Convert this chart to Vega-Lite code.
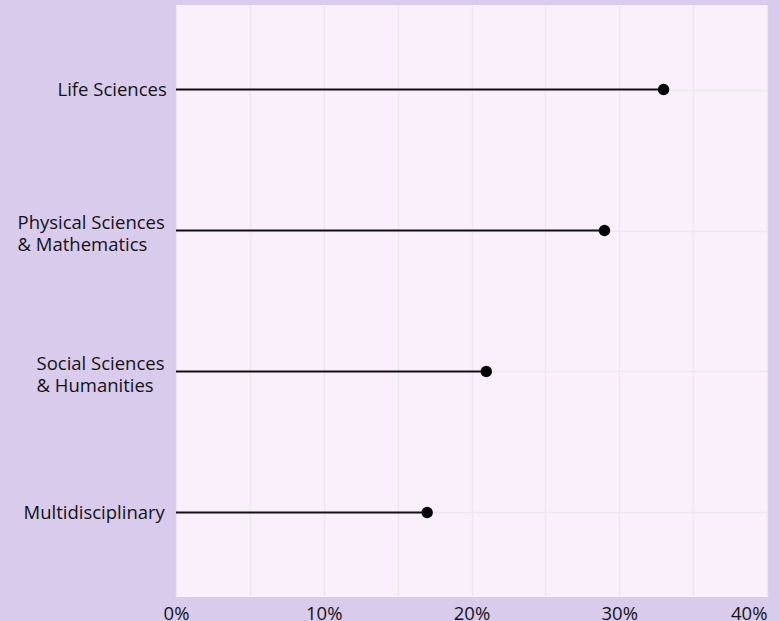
{
  "$schema": "https://vega.github.io/schema/vega-lite/v6.json",
  "autosize": {"type": "none"},
  "padding": {"left": 176, "top": 5, "right": 13, "bottom": 24},
  "width": 591,
  "height": 592,
  "background": "#d8cbec",
  "config": {
    "view": {"fill": "#faf0fc", "stroke": null},
    "font": "Open Sans"
  },
  "data": {
    "values": [
      {"field": "Life Sciences", "share": 33},
      {"field": "Physical Sciences & Mathematics", "share": 29},
      {"field": "Social Sciences & Humanities", "share": 21},
      {"field": "Multidisciplinary", "share": 17}
    ]
  },
  "encoding": {
    "y": {
      "field": "field",
      "type": "nominal",
      "sort": null,
      "scale": {"type": "point", "padding": 0.6},
      "axis": {
        "title": null,
        "domain": false,
        "ticks": false,
        "tickSize": 0,
        "grid": true,
        "gridColor": "#ebe8ec",
        "gridWidth": 1.5,
        "labelFontSize": 18.5,
        "labelLineHeight": 22,
        "labelColor": "#141414",
        "labelExpr": "split(replace(datum.label, ' & ', '|& '), '|')",
        "labelAlign": "left",
        "labelOffset": {"expr": "indexof(datum.value, '&') >= 0 ? -8 : 0"},
        "labelPadding": {"expr": "datum.value == 'Life Sciences' ? 119 : datum.value == 'Multidisciplinary' ? 153 : datum.value == 'Social Sciences & Humanities' ? 140 : 159"}
      }
    }
  },
  "layer": [
    {
      "mark": {"type": "rule", "color": "#111111", "strokeWidth": 2},
      "encoding": {
        "x": {
          "field": "share",
          "type": "quantitative",
          "scale": {"domain": [0, 40], "nice": false},
          "axis": {
            "title": null,
            "domain": false,
            "ticks": false,
            "tickSize": 0,
            "grid": true,
            "gridColor": "#ebe8ec",
            "gridWidth": 1.5,
            "values": [0, 5, 10, 15, 20, 25, 30, 35, 40],
            "labelExpr": "datum.value % 10 == 0 ? datum.value + '%' : ''",
            "labelFlush": false,
            "labelAlign": {"expr": "datum.value >= 40 ? 'right' : 'center'"},
            "labelFontSize": 18.5,
            "labelColor": "#141414",
            "labelPadding": 7
          }
        },
        "x2": {"datum": 0}
      }
    },
    {
      "mark": {"type": "circle", "color": "#000000", "size": 130, "opacity": 1},
      "encoding": {
        "x": {"field": "share", "type": "quantitative"}
      }
    }
  ]
}
